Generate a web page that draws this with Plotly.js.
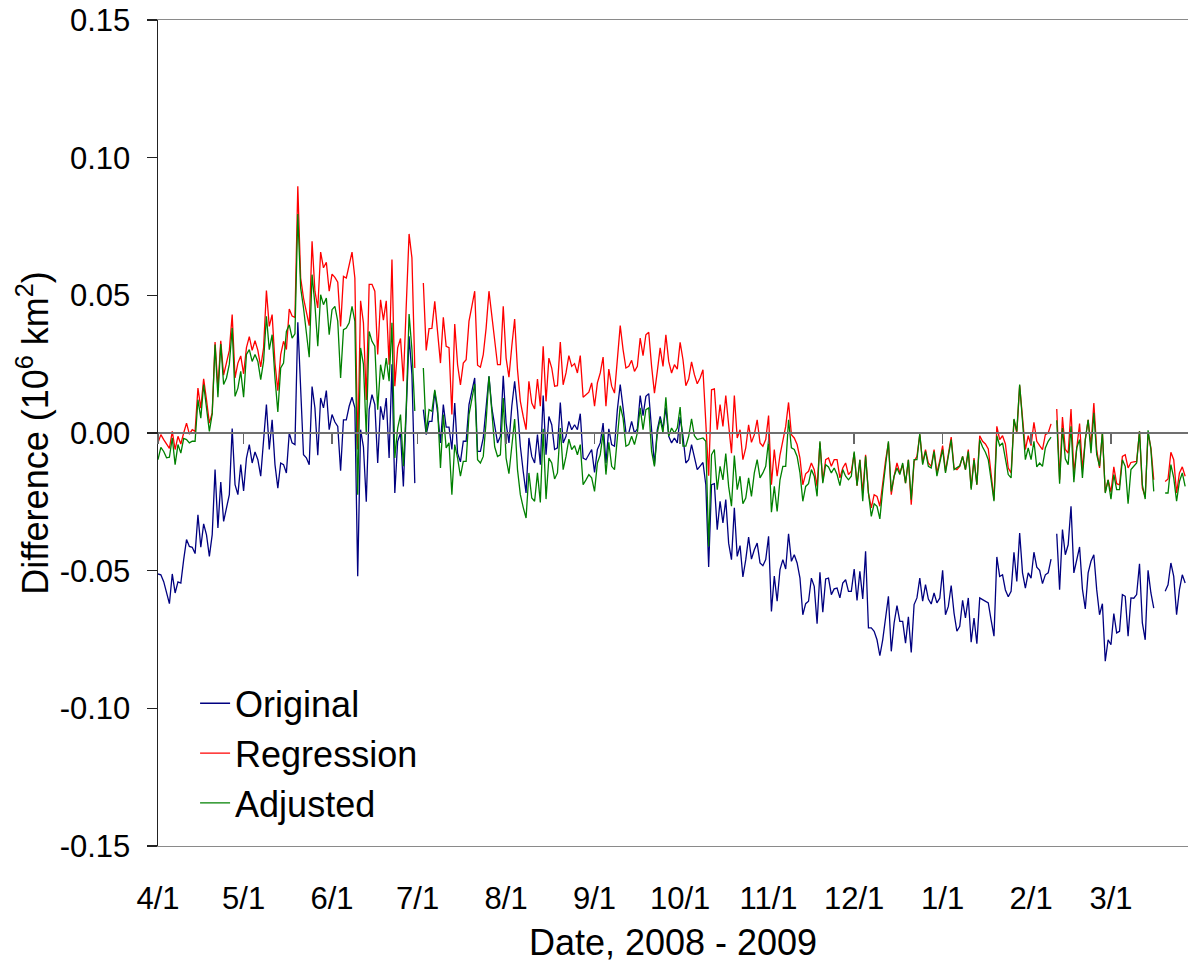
<!DOCTYPE html>
<html>
<head>
<meta charset="utf-8">
<script src="https://cdn.plot.ly/plotly-3.0.1.min.js"></script>
<style>
  html, body { margin: 0; padding: 0; background: #fff; }
  #chart { width: 1188px; height: 964px; }
</style>
</head>
<body>
<div id="chart"></div>
<script>
// Daily differences (10^6 km^2), one value per day starting 1 April 2008.
// null marks days with no value.
const original = [
  -0.0512, -0.0515, -0.054, -0.0581, -0.062, -0.0512, -0.0581, -0.0541, -0.0545, -0.046,
  -0.0387, -0.0412, -0.0415, -0.0438, -0.0297, -0.0415, -0.033, -0.037, -0.0448, -0.0369,
  -0.0133, -0.0345, -0.0178, -0.0321, -0.027, -0.0224, 0.0016, -0.0188, -0.0224, -0.0115,
  -0.021, -0.0091, -0.0042, -0.0109, -0.0069, -0.0097, -0.0157, -0.0036, 0.0103, -0.006,
  0.0048, -0.0115, -0.020, -0.0109, -0.0115, -0.0145, 0.0, -0.0036, -0.0042, 0.0402,
  0.0127, -0.0079, -0.009, -0.0115, 0.0169, 0.0091, -0.0081, 0.0127, 0.0091, 0.0154,
  0.0012, 0.0067, 0.004, 0.0024, -0.0137, 0.0048, 0.0048, 0.0097, 0.013, 0.0091,
  -0.052, 0.0012, -0.005, -0.025, 0.0085, 0.0139, 0.0103, -0.0109, 0.0097, 0.0048,
  0.0127, -0.0091, 0.025, -0.0218, -0.003, 0.0, -0.0194, 0.0091, 0.0351, 0.0212,
  -0.0182, null, null, 0.0085, -0.0006, 0.0042, 0.0042, 0.0151, 0.0073, -0.0036,
  0.0103, 0.0021, 0.0021, -0.006, 0.0109, -0.0073, -0.0105, -0.003, -0.003, 0.0103,
  0.015, 0.020, -0.0067, -0.0067, -0.0018, 0.0091, 0.0206, 0.0091, 0.002, -0.0036,
  -0.0012, 0.0208, 0.0036, -0.0036, 0.0097, 0.0188, 0.0085, -0.0048, -0.014, -0.0218,
  -0.0018, -0.0085, -0.0109, -0.0006, -0.0115, 0.0136, -0.0079, 0.006, 0.003, -0.006,
  -0.0054, 0.0111, -0.0036, -0.0012, 0.0042, 0.0012, 0.003, 0.0012, 0.007, -0.0091,
  -0.0097, -0.0079, -0.006, -0.0143, -0.006, -0.0036, 0.0036, -0.0109, 0.0015, -0.0042,
  -0.0048, 0.0085, 0.0176, 0.0091, 0.0002, 0.0, 0.0042, 0.0, 0.0015, 0.0136,
  0.0063, 0.0133, 0.0143, 0.0012, -0.0115, 0.0012, 0.006, 0.0015, 0.0092, -0.0012,
  -0.0036, -0.0018, -0.0036, 0.0058, -0.0012, -0.0109, -0.0097, -0.0042, -0.0091, -0.0133,
  -0.012, -0.0107, -0.0188, -0.0487, -0.0188, -0.0184, -0.0351, -0.0248, -0.0327, -0.0242,
  -0.040, -0.046, -0.0272, -0.0448, -0.0409, -0.0523, -0.046, -0.0378, -0.0458, -0.0424,
  -0.040, -0.0472, -0.0482, -0.046, -0.0375, -0.0648, -0.052, -0.0611, -0.0496, -0.046,
  -0.0494, -0.0366, -0.0466, -0.0442, -0.0472, -0.0527, -0.066, -0.062, -0.0611, -0.0527,
  -0.0557, -0.0693, -0.0506, -0.0651, -0.053, -0.0527, -0.0587, -0.0566, -0.0563, -0.0599,
  -0.0545, -0.0533, -0.0575, -0.0575, -0.0494, -0.0608, -0.0502, -0.0603, -0.043, -0.0708,
  -0.0708, -0.072, -0.0751, -0.0809, -0.0751, -0.068, -0.0593, -0.0793, -0.069, -0.0627,
  -0.0684, -0.0684, -0.0763, -0.0668, -0.0797, -0.0623, -0.0599, -0.0527, -0.0611, -0.0551,
  -0.0603, -0.0621, -0.0581, -0.0617, -0.060, -0.0499, -0.066, -0.063, -0.0554, -0.0654,
  -0.072, -0.0702, -0.0608, -0.0672, -0.0599, -0.076, -0.0672, -0.0765, -0.0599, -0.0605,
  -0.061, -0.0617, -0.068, -0.0738, -0.045, -0.0521, -0.0515, -0.057, -0.0595, -0.0575,
  -0.0433, -0.0539, -0.0363, -0.0508, -0.0563, -0.0508, -0.0527, -0.0433, -0.0487, -0.0499,
  -0.0547, -0.0515, -0.0508, -0.0458, null, -0.0366, -0.0569, -0.0351, -0.0442, -0.0406,
  -0.0266, -0.0508, -0.046, -0.0414, -0.0567, -0.0639, -0.0508, -0.0466, -0.0442, -0.0569,
  -0.066, -0.062, -0.0829, -0.0751, -0.0769, -0.0656, -0.0726, -0.072, -0.0587, -0.0593,
  -0.0738, -0.0599, -0.060, -0.0587, -0.0475, -0.069, -0.0751, -0.0499, -0.0581, -0.0636,
  null, null, null, -0.0575, -0.0551, -0.0472, -0.0521, -0.066, -0.0569, -0.0515, -0.0545
];

const regression = [
  -0.0036, -0.0006, -0.0024, -0.004, -0.0056, 0.0006, -0.006, -0.0012, -0.004, 0.000,
  0.0036, -0.0004, 0.0012, 0.0006, 0.0163, 0.009, 0.0197, 0.012, 0.0036, 0.0073,
  0.033, 0.0163, 0.0335, 0.021, 0.0254, 0.030, 0.043, 0.020, 0.0254, 0.028,
  0.0215, 0.031, 0.035, 0.030, 0.0335, 0.030, 0.024, 0.0309, 0.0517, 0.0387,
  0.043, 0.0254, 0.0154, 0.0285, 0.0333, 0.0303, 0.045, 0.0425, 0.042, 0.0896,
  0.0563, 0.049, 0.044, 0.039, 0.0696, 0.0515, 0.0454, 0.0657, 0.060, 0.062,
  0.0515, 0.0577, 0.0565, 0.0548, 0.0387, 0.0569, 0.0563, 0.0605, 0.0657, 0.0563,
  -0.006, 0.048, 0.040, 0.012, 0.054, 0.054, 0.0515, 0.0285, 0.0484, 0.041,
  0.048, 0.0248, 0.063, 0.017, 0.0309, 0.0343, 0.0188, 0.046, 0.0723, 0.0636,
  0.0236, null, null, 0.0545, 0.030, 0.0379, 0.038, 0.0478, 0.0369, 0.0254,
  0.042, 0.0315, 0.031, 0.0067, 0.0396, 0.0248, 0.0175, 0.0254, 0.0266, 0.0406,
  0.046, 0.0515, 0.0246, 0.0239, 0.0285, 0.0381, 0.0515, 0.042, 0.034, 0.0248,
  0.0248, 0.046, 0.0272, 0.0203, 0.0315, 0.0414, 0.023, 0.0115, 0.006, 0.0012,
  0.0188, 0.0109, 0.0087, 0.0196, 0.0097, 0.0315, 0.0115, 0.0272, 0.0236, 0.017,
  0.0172, 0.033, 0.0175, 0.0218, 0.0281, 0.0242, 0.0252, 0.0218, 0.0281, 0.013,
  0.0139, 0.0148, 0.0182, 0.0097, 0.0182, 0.0218, 0.0276, 0.0097, 0.0232, 0.017,
  0.0145, 0.0266, 0.039, 0.0303, 0.0236, 0.0242, 0.0264, 0.0224, 0.0242, 0.0345,
  0.0281, 0.0357, 0.0366, 0.0242, 0.0145, 0.0224, 0.0309, 0.0242, 0.0357, 0.026,
  0.0218, 0.0248, 0.0232, 0.0329, 0.0266, 0.0172, 0.0196, 0.0258, 0.0212, 0.0179,
  0.020, 0.023, 0.003, -0.0155, 0.0157, 0.016, 0.0012, 0.0103, 0.0024, 0.0136,
  0.003, -0.0073, 0.0136, -0.0018, 0.0012, -0.0097, -0.0054, 0.003, -0.0034, -0.0006,
  0.0048, -0.0036, -0.0048, -0.0024, 0.0063, -0.0188, -0.006, -0.0157, -0.008, -0.003,
  0.0024, 0.0111, -0.0006, -0.0018, -0.0042, -0.0091, -0.0188, -0.0148, -0.0139, -0.0109,
  -0.0133, -0.0194, -0.0036, -0.0176, -0.0097, -0.0091, -0.0121, -0.0097, -0.0097, -0.0163,
  -0.0127, -0.0109, -0.0151, -0.0139, -0.0073, -0.0191, -0.0097, -0.0218, -0.0079, -0.0218,
  -0.0272, -0.0224, -0.023, -0.0266, -0.0182, -0.010, -0.0036, -0.0224, -0.0157, -0.0109,
  -0.0145, -0.0115, -0.0182, -0.0097, -0.026, -0.0103, -0.0085, -0.0006, -0.0109, -0.006,
  -0.0109, -0.0121, -0.006, -0.0145, -0.010, -0.0046, -0.0139, -0.0079, -0.0015, -0.0127,
  -0.0133, -0.0121, -0.0085, -0.0133, -0.006, -0.020, -0.0091, -0.0188, -0.001, -0.003,
  -0.004, -0.0058, -0.015, -0.0242, 0.0024, -0.0024, -0.001, -0.004, -0.0127, -0.0145,
  0.0048, 0.0, 0.0172, 0.0048, -0.006, -0.001, -0.0046, 0.0039, -0.003, -0.0046,
  -0.006, -0.0006, 0.0, 0.0033, null, 0.0087, -0.017, 0.0058, -0.006, -0.0073,
  0.0087, -0.0145, -0.0046, 0.0034, -0.0133, -0.0024, 0.0048, -0.0046, 0.0109, -0.006,
  -0.0127, 0.0002, -0.0215, -0.017, -0.0215, -0.0123, -0.0184, -0.0188, -0.0085, -0.0079,
  -0.0127, -0.0107, -0.0105, -0.0103, 0.0006, -0.020, -0.0232, 0.0, -0.0054, -0.017,
  null, null, null, -0.0176, -0.0167, -0.007, -0.0097, -0.0218, -0.0145, -0.0123, -0.0157
];

const adjusted = [
  -0.0097, -0.0052, -0.0067, -0.009, -0.0088, -0.0018, -0.0115, -0.0042, -0.0073, -0.002,
  -0.0024, -0.0036, -0.003, -0.003, 0.0121, 0.0054, 0.0176, 0.010, 0.0006, 0.0069,
  0.0321, 0.013, 0.0323, 0.0176, 0.020, 0.025, 0.0381, 0.0133, 0.0163, 0.0224,
  0.013, 0.0285, 0.0303, 0.026, 0.0285, 0.026, 0.0194, 0.026, 0.0424, 0.0303,
  0.0357, 0.020, 0.0076, 0.0236, 0.0254, 0.0369, 0.0393, 0.0345, 0.036, 0.0795,
  0.0527, 0.0454, 0.036, 0.0275, 0.0575, 0.0466, 0.0315, 0.0502, 0.0466, 0.049,
  0.0357, 0.0448, 0.046, 0.0406, 0.020, 0.0375, 0.0381, 0.040, 0.046, 0.0406,
  -0.0224, 0.0309, 0.025, -0.0006, 0.0369, 0.0333, 0.0315, 0.0085, 0.0248, 0.0194,
  0.0272, 0.0188, 0.040, -0.0091, 0.0018, 0.0067, -0.0121, 0.0091, 0.0432, 0.0303,
  0.008, null, null, 0.0236, 0.0, 0.0085, 0.0079, 0.0157, 0.0091, -0.0127,
  0.0067, -0.0054, -0.0036, -0.0224, -0.0042, -0.0091, -0.0157, -0.0103, -0.0103, 0.0067,
  0.012, 0.0178, -0.0097, -0.0109, -0.0085, 0.0042, 0.0206, 0.0091, -0.005, -0.0085,
  -0.0079, 0.0127, -0.0091, -0.0148, -0.0036, 0.0051, -0.0133, -0.0224, -0.027, -0.0309,
  -0.0145, -0.0236, -0.0248, -0.0145, -0.0252, 0.0015, -0.024, -0.0091, -0.0109, -0.0167,
  -0.0145, 0.0018, -0.0133, -0.0085, -0.0022, -0.006, -0.0046, -0.0079, -0.0042, -0.0188,
  -0.017, -0.0151, -0.0163, -0.0212, -0.0109, -0.0079, 0.0, -0.0151, -0.0034, -0.0121,
  -0.0133, -0.0012, 0.0099, 0.0054, -0.0048, -0.0042, -0.0012, -0.0042, 0.0, 0.0091,
  0.0012, 0.0085, 0.0091, -0.0067, -0.0121, 0.0, 0.0051, 0.0, 0.013, -0.0012,
  0.0018, 0.0, 0.0018, 0.0094, -0.0048, -0.0048, -0.0012, 0.0051, -0.001, -0.0024,
  -0.002, -0.0018, -0.003, -0.0412, -0.0079, -0.006, -0.0206, -0.0121, -0.017, -0.0075,
  -0.0194, -0.0266, -0.0082, -0.0206, -0.0157, -0.0257, -0.0236, -0.0163, -0.023, -0.0145,
  -0.0097, -0.0163, -0.0145, -0.0121, -0.0027, -0.0288, -0.0194, -0.0285, -0.017, -0.0121,
  -0.0121, 0.0048, -0.0054, -0.006, -0.0085, -0.0145, -0.0248, -0.0194, -0.0184, -0.0133,
  -0.0157, -0.023, -0.003, -0.0182, -0.0115, -0.0123, -0.0145, -0.0127, -0.0151, -0.0191,
  -0.0133, -0.0157, -0.017, -0.0157, -0.0067, -0.0191, -0.0097, -0.0248, -0.0085, -0.0218,
  -0.0303, -0.0257, -0.0266, -0.0312, -0.0206, -0.012, -0.003, -0.0212, -0.0157, -0.0127,
  -0.0151, -0.0109, -0.0182, -0.0097, -0.0242, -0.0097, -0.0097, -0.0002, -0.0115, -0.0067,
  -0.0121, -0.0127, -0.0067, -0.0157, -0.011, -0.006, -0.0145, -0.0091, -0.0024, -0.0133,
  -0.0127, -0.0119, -0.0085, -0.0133, -0.0067, -0.0206, -0.0097, -0.0188, -0.0024, -0.0051,
  -0.007, -0.0097, -0.017, -0.0248, -0.001, -0.0046, -0.0036, -0.009, -0.0151, -0.0163,
  0.0051, 0.0006, 0.0176, 0.0042, -0.0097, -0.0054, -0.0097, -0.003, -0.0123, -0.0109,
  -0.0121, -0.0054, -0.003, -0.0015, null, 0.0046, -0.0184, 0.0018, -0.0094, -0.0115,
  0.0024, -0.0179, -0.0054, -0.0024, -0.0163, -0.0024, 0.0048, -0.0073, 0.0073, -0.0079,
  -0.0121, 0.0002, -0.0218, -0.017, -0.024, -0.0151, -0.0206, -0.0206, -0.0097, -0.0121,
  -0.0257, -0.0133, -0.012, -0.0109, 0.0006, -0.0188, -0.024, 0.001, -0.006, -0.0212,
  null, null, null, -0.0218, -0.0218, -0.0115, -0.0163, -0.0248, -0.0176, -0.0145, -0.0194
];

// Month ticks along the date axis
const monthTicks = ['2008-04-01', '2008-05-01', '2008-06-01', '2008-07-01', '2008-08-01', '2008-09-01',
                    '2008-10-01', '2008-11-01', '2008-12-01', '2009-01-01', '2009-02-01', '2009-03-01'];
const monthLabels = ['4/1', '5/1', '6/1', '7/1', '8/1', '9/1', '10/1', '11/1', '12/1', '1/1', '2/1', '3/1'];

const yTicks = [-0.15, -0.10, -0.05, 0, 0.05, 0.10, 0.15];
const yLabels = ['-0.15', '-0.10', '-0.05', '0.00', '0.05', '0.10', '0.15'];

// One calendar date per daily value
const startMs = Date.UTC(2008, 3, 1);
const days = original.map((_, i) => new Date(startMs + i * 86400000).toISOString().slice(0, 10));

// The last series sits on the overlaid axis x2 (same range as x), which
// also draws the grey line through y = 0 with its monthly tick marks.
const series = [
  { name: 'Original', values: original, color: '#000080', axis: 'x' },
  { name: 'Regression', values: regression, color: '#FF0000', axis: 'x' },
  { name: 'Adjusted', values: adjusted, color: '#008000', axis: 'x2' }
];

const traces = series.map(s => ({
  type: 'scatter',
  mode: 'lines',
  name: s.name,
  legendgroup: s.name,
  xaxis: s.axis,
  yaxis: 'y',
  x: days,
  y: s.values,
  connectgaps: false,
  line: { color: s.color, width: 1.3 },
  hoverinfo: 'x+y'
}));

const FONT = '"Liberation Sans", Arial, Helvetica, sans-serif';
const xRange = ['2008-04-01', '2009-03-28'];

const layout = {
  width: 1188,
  height: 964,
  margin: { l: 158, r: 0, t: 20, b: 118, pad: 0 },
  paper_bgcolor: '#ffffff',
  plot_bgcolor: '#ffffff',
  font: { family: FONT, color: '#000000', size: 31 },
  showlegend: true,
  legend: {
    x: 0.036, y: 0.209, xanchor: 'left', yanchor: 'top',
    font: { family: FONT, size: 36, color: '#000000' },
    bgcolor: 'rgba(0,0,0,0)',
    traceorder: 'grouped',
    tracegroupgap: 0,
    itemwidth: 30
  },
  xaxis: {
    type: 'date',
    range: xRange,
    tickmode: 'array',
    tickvals: monthTicks,
    ticktext: monthLabels,
    ticks: '',
    ticklabelstandoff: 25,
    tickfont: { family: FONT, size: 31, color: '#000000' },
    showgrid: false,
    zeroline: false,
    showline: true,
    linecolor: '#8a8a8a',
    linewidth: 1,
    mirror: true,
    title: { text: 'Date, 2008 - 2009', font: { family: FONT, size: 36, color: '#000000' }, standoff: 14 }
  },
  xaxis2: {
    type: 'date',
    range: xRange,
    overlaying: 'x',
    matches: 'x',
    anchor: 'free',
    position: 0.5,
    tickmode: 'array',
    tickvals: monthTicks,
    showticklabels: false,
    ticks: 'outside',
    ticklen: 10,
    tickwidth: 1.5,
    tickcolor: '#666666',
    showline: true,
    linecolor: '#707070',
    linewidth: 2,
    showgrid: false,
    zeroline: false
  },
  yaxis: {
    range: [-0.15, 0.15],
    tickmode: 'array',
    tickvals: yTicks,
    ticktext: yLabels,
    ticks: 'outside',
    ticklen: 10,
    tickwidth: 1.5,
    tickcolor: '#222222',
    ticklabelstandoff: 10,
    tickfont: { family: FONT, size: 31, color: '#000000' },
    showline: true,
    linecolor: '#222222',
    linewidth: 1.5,
    showgrid: false,
    zeroline: false,
    title: { text: 'Difference (10<sup>6</sup> km<sup>2</sup>)', font: { family: FONT, size: 36, color: '#000000' }, standoff: 0 }
  }
};

Plotly.newPlot('chart', traces, layout, { displayModeBar: false, staticPlot: true });
</script>
</body>
</html>
